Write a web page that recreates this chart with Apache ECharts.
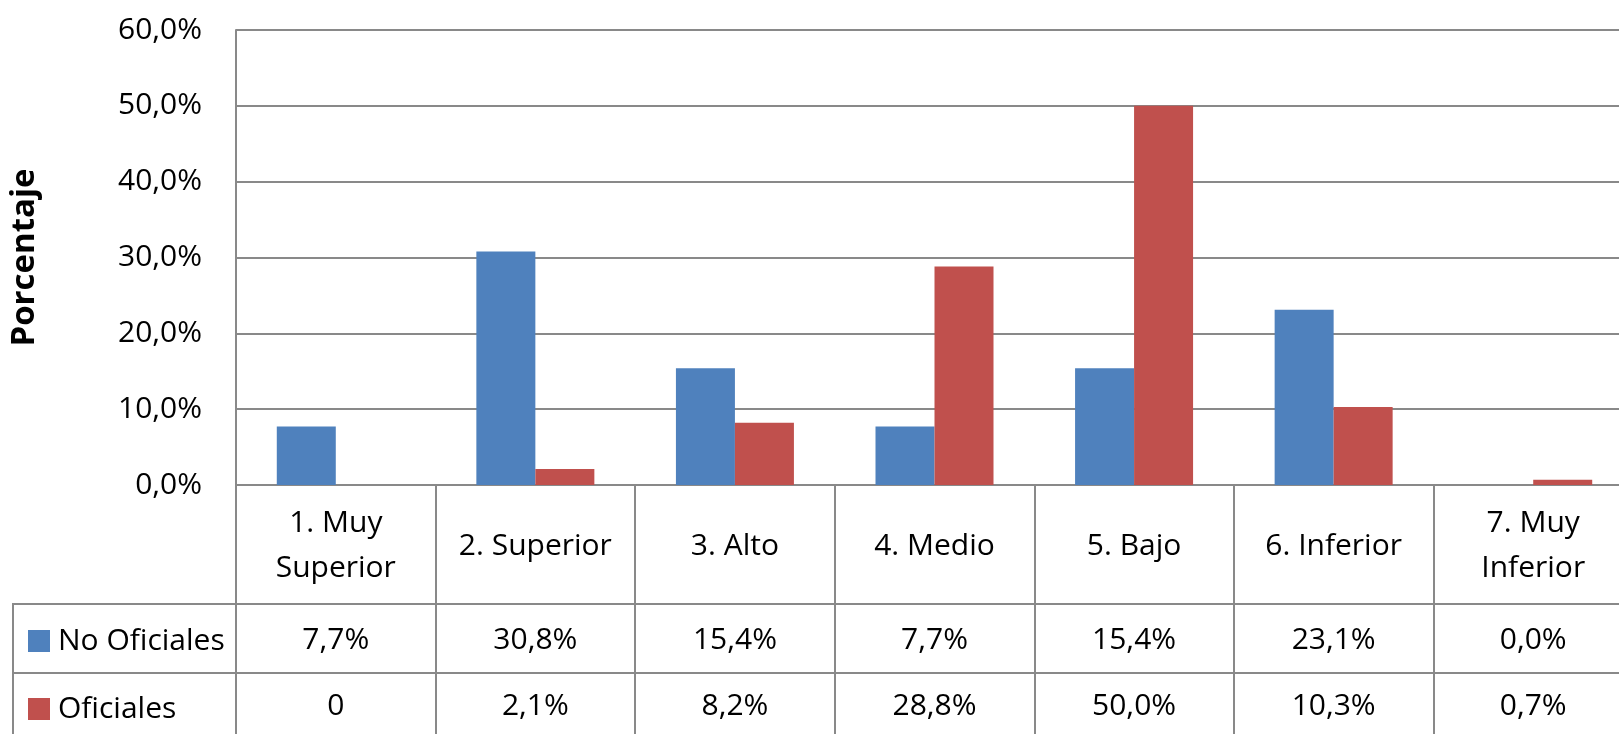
<!DOCTYPE html>
<html><head><meta charset="utf-8">
<script src="https://cdn.jsdelivr.net/npm/echarts@6/dist/echarts.min.js"></script>
<style>html,body{margin:0;padding:0;background:#fff}#c{width:1619px;height:734px}</style>
</head><body><div id="c"></div>
<script>
const categories = ['1. Muy\nSuperior', '2. Superior', '3. Alto', '4. Medio', '5. Bajo', '6. Inferior', '7. Muy\nInferior'];
const seriesNames = ['No Oficiales', 'Oficiales'];
const noOficiales = [7.7, 30.8, 15.4, 7.7, 15.4, 23.1, 0.0];
const oficiales = [0, 2.1, 8.2, 28.8, 50.0, 10.3, 0.7];
const noOficialesLabels = ['7,7%', '30,8%', '15,4%', '7,7%', '15,4%', '23,1%', '0,0%'];
const oficialesLabels = ['0', '2,1%', '8,2%', '28,8%', '50,0%', '10,3%', '0,7%'];
const yMin = 0, yMax = 60, yStep = 10;

const FONT = 'Open Sans';
const GRAY = '#898989';
const chart = echarts.init(document.getElementById('c'), null, {renderer: 'canvas'});
const lineStyle = {color: GRAY, width: 2};
const baseLabel = {fontFamily: FONT, fontSize: 30, color: '#000', interval: 0, verticalAlign: 'middle', hideOverlap: false};
const legendText = {fontFamily: FONT, fontSize: 30, color: '#000', lineHeight: 22, padding: [0, 0, 0, 3]};

chart.setOption({
  animation: false,
  backgroundColor: '#fff',
  color: ['#4F81BD', '#C0504D'],
  grid: {left: 236, top: 30, width: 1397, height: 455, containLabel: false, outerBoundsMode: 'none'},
  legend: [
    {data: [seriesNames[0]], left: 28, top: 626, padding: 0, itemWidth: 22, itemHeight: 22, icon: 'rect', textStyle: legendText},
    {data: [seriesNames[1]], left: 28, top: 694, padding: 0, itemWidth: 22, itemHeight: 22, icon: 'rect', textStyle: legendText}
  ],
  xAxis: [
    {type: 'category', data: categories, position: 'bottom',
     axisLine: {show: true, lineStyle}, axisTick: {show: true, length: 119, interval: 0, lineStyle},
     axisLabel: Object.assign({}, baseLabel, {margin: 61, lineHeight: 45})},
    {type: 'category', data: categories, position: 'bottom', offset: 119,
     axisLine: {show: true, lineStyle}, axisTick: {show: true, length: 69, interval: 0, lineStyle},
     axisLabel: Object.assign({}, baseLabel, {margin: 36, formatter: (v, i) => noOficialesLabels[i]})},
    {type: 'category', data: categories, position: 'bottom', offset: 188,
     axisLine: {show: true, lineStyle}, axisTick: {show: true, length: 80, interval: 0, lineStyle},
     axisLabel: Object.assign({}, baseLabel, {margin: 33, formatter: (v, i) => oficialesLabels[i]})}
  ],
  yAxis: {
    type: 'value', min: yMin, max: yMax, interval: yStep,
    name: 'Porcentaje', nameLocation: 'middle', nameGap: 195, nameRotate: 90,
    nameTextStyle: {fontFamily: FONT, fontSize: 33, fontWeight: 'bold', color: '#000'},
    axisLine: {show: true, lineStyle}, axisTick: {show: false},
    splitLine: {show: true, lineStyle},
    axisLabel: {fontFamily: FONT, fontSize: 30, color: '#000', margin: 34,
      formatter: v => v.toFixed(1).replace('.', ',') + '%'}
  },
  series: [
    {name: seriesNames[0], type: 'bar', xAxisIndex: 0, data: noOficiales, barWidth: 59, barGap: '0%'},
    {name: seriesNames[1], type: 'bar', xAxisIndex: 0, data: oficiales, barWidth: 59, barGap: '0%'}
  ],
  graphic: [
    {type: 'line', shape: {x1: 13, y1: 604, x2: 236, y2: 604}, style: {stroke: GRAY, lineWidth: 2}},
    {type: 'line', shape: {x1: 13, y1: 673, x2: 236, y2: 673}, style: {stroke: GRAY, lineWidth: 2}},
    {type: 'line', shape: {x1: 13, y1: 603, x2: 13, y2: 740}, style: {stroke: GRAY, lineWidth: 2}}
  ]
});
</script></body></html>
